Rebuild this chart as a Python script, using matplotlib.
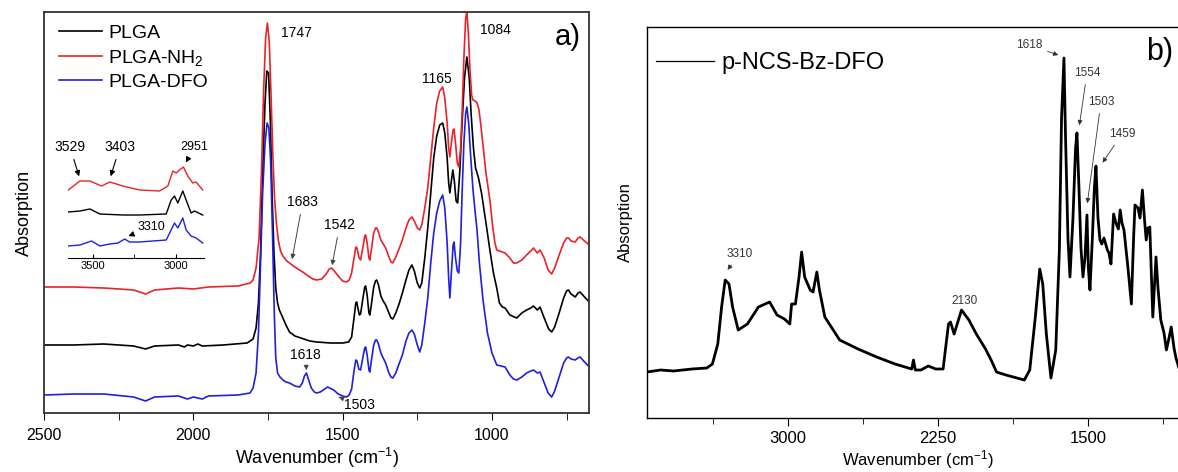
import matplotlib
matplotlib.use('Agg')
import matplotlib.pyplot as plt
from matplotlib.lines import Line2D
from matplotlib.ticker import MultipleLocator

plt.rcParams['font.family'] = ['Liberation Sans', 'DejaVu Sans']
plt.rcParams['mathtext.default'] = 'regular'

# ---- panel a): PLGA spectra (wavenumber, absorption in arb. units) ----
plga_wn = [2500, 2400, 2300, 2200, 2160, 2130, 2050, 2030, 2020, 2000, 1985, 1970, 1900,
           1820, 1800, 1790, 1782, 1775, 1768, 1760, 1754, 1748, 1742, 1736, 1730, 1724,
           1718, 1712, 1700, 1690, 1678, 1660, 1640, 1610, 1587, 1540, 1500, 1480, 1470,
           1462, 1456, 1453, 1449, 1444, 1440, 1432, 1426, 1423, 1418, 1412, 1409, 1404,
           1396, 1390, 1386, 1380, 1372, 1366, 1356, 1345, 1338, 1332, 1322, 1310, 1300,
           1288, 1278, 1268, 1260, 1250, 1242, 1235, 1225, 1215, 1205, 1195, 1185, 1175,
           1165, 1158, 1150, 1145, 1141, 1136, 1131, 1126, 1120, 1115, 1108, 1100, 1092,
           1084, 1076, 1070, 1062, 1055, 1045, 1035, 1020, 1007, 995, 984, 975, 965, 956,
           940, 917, 900, 884, 870, 861, 848, 839, 825, 810, 800, 790, 775, 760, 750, 744,
           735, 721, 712, 705, 690, 674]
plga_abs = [68, 68, 69, 67, 64, 67, 68, 66, 68, 67, 69, 67, 68,
            70, 74, 85, 110, 160, 240, 310, 342, 340, 290, 215, 160, 125,
            110, 103, 95, 88, 81, 77, 75, 72, 71, 70, 70, 71, 76,
            95, 110, 111, 105, 98, 99, 115, 126, 127, 118, 100, 98, 108,
            126, 132, 133, 128, 117, 113, 108, 100, 95, 94, 100, 110, 120,
            133, 143, 148, 142, 130, 125, 130, 155, 185, 220, 255, 277, 288,
            290, 280, 255, 230, 220, 232, 243, 232, 212, 210, 240, 290, 335,
            356, 335, 300, 265, 245, 235, 220, 190, 163, 140, 125, 110, 106, 105,
            98, 95, 100, 103, 105, 107, 103, 106, 95, 84, 81, 86, 100, 115, 122, 123,
            119, 116, 120, 121, 116, 111]

nh2_wn = [2500, 2400, 2300, 2200, 2160, 2130, 2050, 2000, 1950, 1850, 1810, 1800, 1790,
          1780, 1772, 1765, 1758, 1752, 1746, 1740, 1734, 1728, 1722, 1715, 1708, 1700,
          1690, 1683, 1678, 1665, 1650, 1634, 1615, 1600, 1587, 1570, 1555, 1545, 1537,
          1528, 1515, 1500, 1487, 1478, 1470, 1462, 1456, 1452, 1446, 1440, 1432, 1426,
          1423, 1418, 1412, 1409, 1404, 1396, 1390, 1386, 1380, 1372, 1366, 1356, 1345,
          1338, 1332, 1322, 1310, 1300, 1288, 1278, 1268, 1260, 1250, 1242, 1235, 1225,
          1215, 1205, 1195, 1185, 1175, 1165, 1158, 1150, 1145, 1141, 1136, 1130, 1127,
          1122, 1116, 1111, 1105, 1100, 1094, 1088, 1084, 1079, 1074, 1068, 1064, 1056,
          1050, 1044, 1038, 1030, 1020, 1007, 997, 990, 984, 975, 965, 956, 940, 928,
          917, 900, 884, 870, 861, 848, 839, 825, 812, 800, 790, 775, 760, 750, 744, 735,
          721, 712, 705, 690, 674]
nh2_abs = [126, 126, 125, 123, 119, 123, 125, 124, 126, 127, 130, 133, 145,
           175, 240, 320, 375, 390, 372, 320, 260, 215, 190, 172, 162, 157,
           153, 151, 150, 147, 144, 141, 137, 134, 133, 134, 139, 144, 145,
           142, 137, 132, 131, 133, 140, 155, 166, 165, 156, 153, 166, 177,
           178, 170, 155, 153, 163, 180, 185, 185, 181, 173, 170, 165, 156,
           151, 150, 156, 165, 173, 185, 193, 196, 192, 185, 183, 188, 205,
           225, 255, 285, 310, 322, 326, 315, 290, 265, 256, 270, 283, 284,
           270, 250, 246, 265, 300, 355, 395, 401, 380, 345, 318, 313, 312,
           310, 304, 290, 268, 240, 213, 185, 170, 163, 162, 161, 160, 155, 150,
           150, 153, 158, 162, 165, 160, 163, 155, 143, 139, 145, 158, 170, 175, 175, 172,
           171, 175, 176, 172, 168]

dfo_wn = [2500, 2400, 2300, 2200, 2160, 2130, 2050, 2020, 2000, 1970, 1950, 1850, 1810,
          1800, 1790, 1782, 1775, 1768, 1760, 1753, 1747, 1741, 1735, 1729, 1724, 1718,
          1710, 1700, 1690, 1678, 1660, 1644, 1635, 1628, 1621, 1615, 1605, 1595, 1587,
          1575, 1560, 1550, 1544, 1530, 1515, 1500, 1487, 1478, 1470, 1462, 1456, 1452,
          1446, 1440, 1432, 1426, 1423, 1418, 1412, 1409, 1404, 1396, 1390, 1386, 1380,
          1372, 1366, 1356, 1345, 1338, 1332, 1322, 1310, 1300, 1288, 1278, 1268, 1260,
          1250, 1242, 1235, 1225, 1215, 1205, 1195, 1185, 1175, 1165, 1158, 1150, 1145,
          1141, 1136, 1130, 1127, 1122, 1116, 1111, 1105, 1100, 1094, 1088, 1084, 1078,
          1072, 1064, 1056, 1050, 1042, 1030, 1015, 1000, 984, 970, 956, 940, 928, 917,
          900, 884, 870, 861, 848, 839, 825, 812, 800, 790, 775, 760, 750, 744, 735, 721,
          712, 705, 690, 674]
dfo_abs = [18, 19, 19, 16, 12, 16, 17, 14, 16, 14, 17, 18, 20,
           25, 40, 80, 150, 220, 270, 290, 285, 250, 180, 100, 55, 40,
           36, 33, 31, 30, 27, 26, 30, 37, 40, 34, 25, 21, 20,
           21, 24, 26, 25, 23, 19, 17, 16, 18, 24, 42, 53, 52,
           44, 43, 56, 65, 66, 58, 43, 41, 52, 68, 73, 73, 69,
           60, 56, 50, 40, 36, 35, 40, 50, 58, 72, 80, 83, 79,
           68, 61, 68, 90, 115, 150, 180, 200, 212, 218, 205, 170, 135,
           115, 140, 168, 171, 155, 142, 140, 170, 220, 270, 300, 306, 290,
           260, 225, 200, 183, 150, 113, 80, 60, 48, 47, 46, 38, 34, 33,
           36, 40, 42, 43, 40, 41, 30, 20, 16, 22, 36, 50, 55, 56, 54, 53,
           55, 56, 51, 46]

# inset (O-H / C-H region)
ins_nh2_wn = [3648, 3578, 3518, 3448, 3398, 3319, 3219, 3099, 3049, 3019, 2999, 2979, 2955,
              2929, 2899, 2879, 2839]
ins_nh2_abs = [68, 77, 77, 72, 76, 72, 68, 67, 72, 87, 85, 88, 91, 82, 75, 76, 68]
ins_plga_wn = [3648, 3578, 3518, 3458, 3319, 3219, 3059, 3029, 3009, 2989, 2959, 2939, 2909,
               2889, 2839]
ins_plga_abs = [46, 47, 49, 44, 43, 43, 44, 58, 62, 55, 67, 58, 45, 47, 43]
ins_dfo_wn = [3648, 3578, 3508, 3458, 3398, 3349, 3309, 3279, 3219, 3059, 3029, 3009, 2989,
              2959, 2939, 2909, 2879, 2839]
ins_dfo_abs = [12, 13, 17, 12, 14, 15, 19, 16, 16, 18, 28, 35, 30, 40, 28, 22, 20, 15]

# ---- panel b): p-NCS-Bz-DFO ----
ncs_wn = [3704, 3636, 3571, 3479, 3405, 3377, 3350, 3331, 3313, 3294, 3276, 3248, 3202,
          3147, 3091, 3054, 3017, 2990, 2981, 2962, 2944, 2931, 2916, 2888, 2874, 2855,
          2842, 2815, 2741, 2649, 2556, 2464, 2381, 2372, 2363, 2335, 2298, 2261, 2224,
          2197, 2187, 2169, 2132, 2095, 2058, 2012, 1984, 1957, 1910, 1818, 1791, 1763,
          1741, 1726, 1708, 1685, 1661, 1643, 1632, 1620, 1612, 1600, 1590, 1575, 1562,
          1555, 1545, 1535, 1525, 1515, 1505, 1498, 1490, 1478, 1468, 1460, 1450, 1440,
          1431, 1420, 1403, 1395, 1385, 1372, 1360, 1348, 1339, 1330, 1320, 1300, 1283,
          1272, 1265, 1250, 1240, 1228, 1218, 1209, 1200, 1191, 1176, 1160, 1150, 1136,
          1120, 1108, 1095, 1084, 1070, 1060, 1047]
ncs_abs = [46, 48, 47, 49, 50, 54, 74, 111, 138, 134, 111, 88, 94,
           111, 116, 103, 99, 94, 114, 114, 141, 166, 141, 128, 126, 146,
           128, 101, 78, 69, 61, 54, 49, 58, 48, 48, 52, 49, 49,
           94, 96, 84, 108, 98, 84, 69, 58, 46, 43, 38, 48, 101,
           149, 134, 84, 40, 68, 168, 300, 360, 280, 180, 141, 200, 270,
           285, 230, 170, 141, 160, 203, 150, 128, 180, 230, 252, 200, 178,
           174, 180, 168, 165, 154, 204, 195, 189, 208, 195, 188, 150, 114,
           180, 213, 210, 200, 228, 200, 178, 190, 191, 101, 161, 130, 98,
           85, 68, 80, 91, 70, 60, 51]

fig = plt.figure(figsize=(11.78, 4.72), dpi=100)

# ================= panel a =================
ax1 = fig.add_axes([0.0374, 0.125, 0.4626, 0.8496])
ax1.plot(plga_wn, plga_abs, color='black', lw=1.2, label='PLGA')
ax1.plot(nh2_wn, nh2_abs, color='#e8232a', lw=1.2, label='PLGA-NH$_2$')
ax1.plot(dfo_wn, dfo_abs, color='#1f1fe0', lw=1.2, label='PLGA-DFO')
ax1.set_xlim(2500, 675)
ax1.set_ylim(0, 401)
ax1.set_yticks([])
ax1.xaxis.set_major_locator(MultipleLocator(500))
ax1.xaxis.set_minor_locator(MultipleLocator(250))
ax1.tick_params(axis='x', which='both', direction='out', length=5, labelsize=11.5, pad=6)
for s in ax1.spines.values():
    s.set_linewidth(1.3)
    s.set_color('#333333')
ax1.set_xlabel('Wavenumber (cm$^{-1}$)', fontsize=13, labelpad=2)
ax1.set_ylabel('Absorption', fontsize=13, labelpad=8)
ax1.legend(loc='upper left', bbox_to_anchor=(-0.005, 1.012), frameon=False, fontsize=14,
           handlelength=2.2, handletextpad=0.35, labelspacing=0.28)

ax1.text(1654, 380, '1747', fontsize=10, ha='center', va='center')
ax1.text(1185, 334, '1165', fontsize=10, ha='center', va='center')
ax1.text(990, 383, '1084', fontsize=10, ha='center', va='center')
ax1.text(745, 376, 'a)', fontsize=21, ha='center', va='center')
arr = dict(arrowstyle='-|>', color='#444444', lw=0.7, mutation_scale=7)
ax1.annotate('1683', xy=(1671, 151), xytext=(1634, 211), fontsize=10, ha='center',
             va='center', arrowprops=arr)
ax1.annotate('1542', xy=(1537, 145), xytext=(1510, 188), fontsize=10, ha='center',
             va='center', arrowprops=arr)
ax1.annotate('1618', xy=(1621, 40), xytext=(1624, 58), fontsize=10, ha='center',
             va='center', arrowprops=arr)
ax1.annotate('1503', xy=(1513, 16), xytext=(1443, 8), fontsize=10, ha='center',
             va='center', arrowprops=arr)

# inset
axi = fig.add_axes([0.0577, 0.4534, 0.1154, 0.2436])
axi.patch.set_alpha(0)
axi.plot(ins_nh2_wn, ins_nh2_abs, color='#e8232a', lw=1.0)
axi.plot(ins_plga_wn, ins_plga_abs, color='black', lw=1.0)
axi.plot(ins_dfo_wn, ins_dfo_abs, color='#1f1fe0', lw=1.0)
axi.set_xlim(3650, 2832)
axi.set_ylim(0, 115)
axi.set_yticks([])
for side in ['left', 'right', 'top']:
    axi.spines[side].set_visible(False)
axi.spines['bottom'].set_linewidth(0.8)
axi.xaxis.set_major_locator(MultipleLocator(500))
axi.xaxis.set_minor_locator(MultipleLocator(250))
axi.tick_params(axis='x', which='both', direction='in', length=3, labelsize=8, pad=2)
iarr = dict(arrowstyle='-|>', color='black', lw=0.8, mutation_scale=8)
axi.annotate('3529', xy=(3578, 79), xytext=(3638, 111), fontsize=10, ha='center',
             va='center', arrowprops=iarr, annotation_clip=False)
axi.annotate('3403', xy=(3398, 79), xytext=(3338, 111), fontsize=10, ha='center',
             va='center', arrowprops=iarr, annotation_clip=False)
axi.annotate('2951', xy=(2949, 93), xytext=(2889, 111), fontsize=9, ha='center',
             va='center', arrowprops=iarr, annotation_clip=False)
axi.annotate('3310', xy=(3302, 21), xytext=(3147, 31), fontsize=9, ha='center',
             va='center', arrowprops=iarr, annotation_clip=False)

# ================= panel b =================
ax2 = fig.add_axes([0.5492, 0.1144, 0.4593, 0.8284])
ax2.plot(ncs_wn, ncs_abs, color='black', lw=2.0)
ax2.set_xlim(3704, 1000)
ax2.set_ylim(0, 391)
ax2.set_yticks([])
ax2.xaxis.set_major_locator(MultipleLocator(750))
ax2.xaxis.set_minor_locator(MultipleLocator(375))
ax2.tick_params(axis='x', which='major', direction='out', length=6, labelsize=12, pad=3)
ax2.tick_params(axis='x', which='minor', direction='out', length=4)
for s in ax2.spines.values():
    s.set_linewidth(1.0)
ax2.set_xlabel('Wavenumber (cm$^{-1}$)', fontsize=12, labelpad=2)
ax2.set_ylabel('Absorption', fontsize=12, labelpad=10)
ax2.legend(handles=[Line2D([], [], color='black', lw=0.9)], labels=['p-NCS-Bz-DFO'],
           loc='upper left', bbox_to_anchor=(-0.022, 0.99), frameon=False, fontsize=17,
           handlelength=2.45, handletextpad=0.3)

ax2.text(1140, 366, 'b)', fontsize=22, ha='center', va='center')
ax2.text(2115, 117, '2130', fontsize=8.5, ha='center', va='center', color='#333333')
barr = dict(arrowstyle='-|>', color='#333333', lw=0.6, mutation_scale=7)
ax2.annotate('3310', xy=(3310, 146), xytext=(3240, 164), fontsize=8.5, ha='center',
             va='center', color='#333333', arrowprops=barr)
ax2.annotate('1618', xy=(1635, 362), xytext=(1795, 373), fontsize=8.5, ha='center',
             va='center', color='#333333', arrowprops=barr)
ax2.annotate('1554', xy=(1545, 290), xytext=(1505, 345), fontsize=8.5, ha='center',
             va='center', color='#333333', arrowprops=barr)
ax2.annotate('1503', xy=(1505, 212), xytext=(1435, 316), fontsize=8.5, ha='center',
             va='center', color='#333333', arrowprops=barr)
ax2.annotate('1459', xy=(1435, 253), xytext=(1330, 284), fontsize=8.5, ha='center',
             va='center', color='#333333', arrowprops=barr)

fig.savefig('out.png', dpi=100)
